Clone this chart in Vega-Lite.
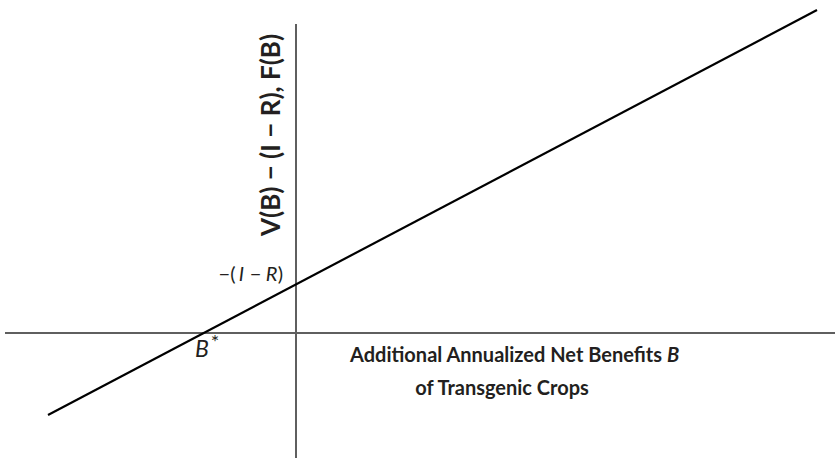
{
  "$schema": "https://vega.github.io/schema/vega-lite/v6.json",
  "width": 837,
  "height": 459,
  "autosize": {"type": "fit", "contains": "padding"},
  "padding": 0,
  "background": "white",
  "config": {"view": {"stroke": null}, "text": {"font": "Lato", "color": "#231f20"}},
  "datasets": {
    "line": [{"B": -2.48, "F": -0.82}, {"B": 5.21, "F": 3.23}],
    "axes": [
      {"name": "horizontal", "x1": -2.91, "x2": 5.39, "y1": 0, "y2": 0},
      {"name": "vertical", "x1": 0, "x2": 0, "y1": -1.25, "y2": 3.09}
    ]
  },
  "layer": [
    {
      "data": {"name": "axes"},
      "mark": {"type": "rule", "color": "#5f5f5f", "strokeWidth": 2},
      "encoding": {
        "x": {"field": "x1", "type": "quantitative", "scale": {"domain": [-2.96, 5.41], "nice": false, "zero": false}, "axis": null},
        "x2": {"field": "x2"},
        "y": {"field": "y1", "type": "quantitative", "scale": {"domain": [-1.26, 3.33], "nice": false, "zero": false}, "axis": null},
        "y2": {"field": "y2"}
      }
    },
    {
      "data": {"name": "line"},
      "mark": {"type": "line", "color": "#000000", "strokeWidth": 2.2},
      "encoding": {
        "x": {"field": "B", "type": "quantitative"},
        "y": {"field": "F", "type": "quantitative"}
      }
    },
    {
      "data": {"values": [{"t": "−("}]},
      "mark": {"type": "text", "align": "center", "baseline": "alphabetic", "fontSize": 20},
      "encoding": {"x": {"datum": -0.69}, "y": {"datum": 0.52}, "text": {"field": "t"}}
    },
    {
      "data": {"values": [{"t": "I"}]},
      "mark": {"type": "text", "align": "center", "baseline": "alphabetic", "fontSize": 20, "fontStyle": "italic"},
      "encoding": {"x": {"datum": -0.545}, "y": {"datum": 0.52}, "text": {"field": "t"}}
    },
    {
      "data": {"values": [{"t": "−"}]},
      "mark": {"type": "text", "align": "center", "baseline": "alphabetic", "fontSize": 20},
      "encoding": {"x": {"datum": -0.405}, "y": {"datum": 0.52}, "text": {"field": "t"}}
    },
    {
      "data": {"values": [{"t": "R"}]},
      "mark": {"type": "text", "align": "center", "baseline": "alphabetic", "fontSize": 20, "fontStyle": "italic"},
      "encoding": {"x": {"datum": -0.245}, "y": {"datum": 0.52}, "text": {"field": "t"}}
    },
    {
      "data": {"values": [{"t": ")"}]},
      "mark": {"type": "text", "align": "center", "baseline": "alphabetic", "fontSize": 20},
      "encoding": {"x": {"datum": -0.155}, "y": {"datum": 0.52}, "text": {"field": "t"}}
    },
    {
      "data": {"values": [{"t": "B"}]},
      "mark": {"type": "text", "align": "center", "baseline": "alphabetic", "fontSize": 23, "fontStyle": "italic"},
      "encoding": {"x": {"datum": -0.94}, "y": {"datum": -0.235}, "text": {"field": "t"}}
    },
    {
      "data": {"values": [{"t": "*"}]},
      "mark": {"type": "text", "align": "center", "baseline": "top", "fontSize": 20},
      "encoding": {"x": {"datum": -0.81}, "y": {"datum": 0.0}, "text": {"field": "t"}}
    },
    {
      "data": {"values": [{"t": "Additional Annualized Net Benefits"}]},
      "mark": {"type": "text", "align": "right", "baseline": "alphabetic", "fontSize": 20, "fontWeight": "bold"},
      "encoding": {"x": {"datum": 3.66}, "y": {"datum": -0.29}, "text": {"field": "t"}}
    },
    {
      "data": {"values": [{"t": "B"}]},
      "mark": {"type": "text", "align": "left", "baseline": "alphabetic", "fontSize": 20, "fontWeight": "bold", "fontStyle": "italic"},
      "encoding": {"x": {"datum": 3.71}, "y": {"datum": -0.29}, "text": {"field": "t"}}
    },
    {
      "data": {"values": [{"t": "of Transgenic Crops"}]},
      "mark": {"type": "text", "align": "center", "baseline": "alphabetic", "fontSize": 20, "fontWeight": "bold"},
      "encoding": {"x": {"datum": 2.06}, "y": {"datum": -0.62}, "text": {"field": "t"}}
    },
    {
      "data": {"values": [{"t": "V(B) − (I − R), F(B)"}]},
      "mark": {"type": "text", "align": "center", "baseline": "alphabetic", "fontSize": 26, "fontWeight": "bold", "angle": 270},
      "encoding": {"x": {"datum": -0.16}, "y": {"datum": 1.98}, "text": {"field": "t"}}
    }
  ]
}
